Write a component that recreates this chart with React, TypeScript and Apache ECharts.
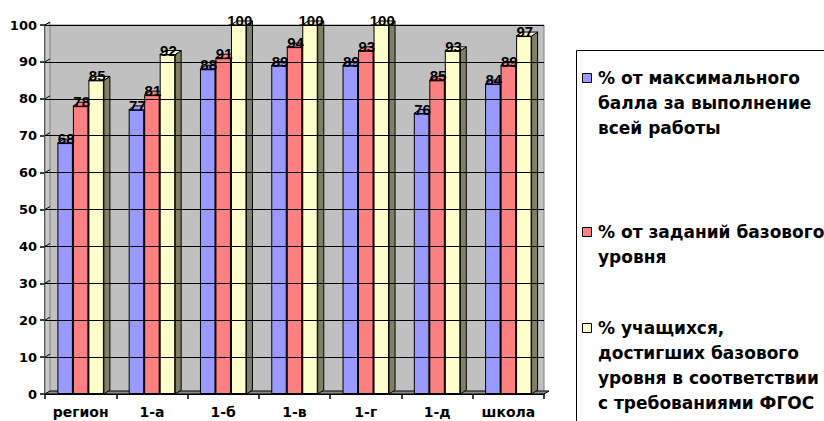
import React, { useEffect, useRef } from "react";
import * as echarts from "echarts";

const categories = ["регион", "1-а", "1-б", "1-в", "1-г", "1-д", "школа"];
const seriesNames = [
  "% от максимального балла за выполнение всей работы",
  "% от заданий базового уровня",
  "% учащихся, достигших базового уровня в соответствии с требованиями ФГОС",
];
const maxScorePct = [68, 77, 88, 89, 89, 76, 84];
const baseTasksPct = [78, 81, 91, 94, 93, 85, 89];
const reachedBasePct = [85, 92, 100, 100, 100, 93, 97];
const yTicks = [0, 10, 20, 30, 40, 50, 60, 70, 80, 90, 100];
const legendLines = [
  ["% от максимального", "балла за выполнение", "всей работы"],
  ["% от заданий базового", "уровня"],
  ["% учащихся,", "достигших базового", "уровня в соответствии", "с требованиями ФГОС"],
];

const COLORS = ["#9999FF", "#FF8080", "#FFFFCC"];
const SIDE_COLORS = ["#4D4D80", "#804040", "#808066"];
const BW = 15.5;
const DX = 6;
const DY = -4;
const WDX = 5;
const WDY = -3;
const AXIS_FONT = '"DejaVu Sans", sans-serif';

export default function App() {
  const ref = useRef<HTMLDivElement>(null);

  useEffect(() => {
    if (!ref.current) return;
    const chart = echarts.init(ref.current, undefined, { renderer: "svg" });
    const values = [maxScorePct, baseTasksPct, reachedBasePct];
    const nS = values.length;
    const groupW = BW * nS;

    const faceData: number[][] = [];
    values.forEach((arr, k) => arr.forEach((v, i) => faceData.push([i, k, v])));

    const wallSeries = {
      type: "custom",
      name: "walls",
      z: 1,
      silent: true,
      data: yTicks.map((t) => [0, t]),
      encode: { x: 0, y: 1 },
      renderItem: (params: any, api: any) => {
        const cs = params.coordSys;
        const xl = cs.x;
        const xr = cs.x + cs.width;
        const yTop = cs.y;
        const yBot = cs.y + cs.height;
        const y = api.coord([api.value(0), api.value(1)])[1];
        const children: any[] = [];
        if (params.dataIndex === 0) {
          children.push({
            type: "polygon",
            shape: {
              points: [
                [xl, yBot],
                [xl, yTop],
                [xl + WDX, yTop + WDY],
                [xl + WDX, yBot + WDY],
              ],
            },
            style: { fill: "#C8C8C8", stroke: "#808080", lineWidth: 1 },
          });
          children.push({
            type: "polygon",
            shape: {
              points: [
                [xl, yBot],
                [xr, yBot],
                [xr + WDX, yBot + WDY],
                [xl + WDX, yBot + WDY],
              ],
            },
            style: { fill: "#8C8C8C", stroke: "#000", lineWidth: 1 },
          });
        } else {
          children.push({
            type: "polyline",
            shape: { points: [[xl, y], [xl + WDX, y + WDY]] },
            style: { stroke: "#000", lineWidth: 1, fill: "none" },
          });
        }
        return { type: "group", children };
      },
    };

    const gridLineSeries = {
      type: "line",
      name: "gridlines",
      z: 1,
      silent: true,
      data: [],
      markLine: {
        silent: true,
        symbol: ["none", "none"],
        label: { show: false },
        lineStyle: { color: "#000000", width: 1.2, type: "solid", opacity: 1 },
        data: yTicks.filter((t) => t > 0).map((t) => ({ yAxis: t })),
      },
    };

    const faceSeries = {
      type: "custom",
      name: "faces",
      z: 1,
      silent: true,
      data: faceData,
      encode: { x: 0, y: 2 },
      renderItem: (params: any, api: any) => {
        const ci = api.value(0);
        const k = api.value(1);
        const v = api.value(2);
        const top = api.coord([ci, v]);
        const base = api.coord([ci, 0]);
        const x0 = top[0] - groupW / 2 + k * BW;
        const x1 = x0 + BW;
        const yt = top[1];
        const yb = base[1];
        return {
          type: "group",
          children: [
            {
              type: "polygon",
              shape: { points: [[x1, yt], [x1 + DX, yt + DY], [x1 + DX, yb + DY], [x1, yb]] },
              style: { fill: SIDE_COLORS[k], stroke: "#000", lineWidth: 1 },
            },
            {
              type: "polygon",
              shape: { points: [[x0, yt], [x1, yt], [x1 + DX, yt + DY], [x0 + DX, yt + DY]] },
              style: { fill: COLORS[k], stroke: "#000", lineWidth: 1 },
            },
          ],
        };
      },
    };

    const barSeries = values.map((arr, k) => ({
      type: "bar",
      name: seriesNames[k],
      data: arr,
      z: 2,
      barWidth: BW,
      barGap: "0%",
      itemStyle: { color: COLORS[k], borderColor: "#000", borderWidth: 1 },
      label: {
        show: true,
        position: "top",
        distance: 0,
        offset: [1, 3],
        color: "#000",
        fontFamily: '"Liberation Sans", Arial, sans-serif',
        fontWeight: "bold",
        fontSize: 15,
      },
    }));

    const graphics: any[] = [
      {
        type: "rect",
        shape: { x: 576.5, y: 50.5, width: 300, height: 420 },
        style: { fill: "#fff", stroke: "#000", lineWidth: 1 },
        z: 10,
      },
    ];
    const firstLineCenters = [78, 232, 328];
    legendLines.forEach((lines, k) => {
      const cy = firstLineCenters[k];
      graphics.push({
        type: "rect",
        shape: { x: 582.5, y: cy - 4.5, width: 9, height: 9 },
        style: { fill: COLORS[k], stroke: "#000", lineWidth: 1 },
        z: 11,
      });
      graphics.push({
        type: "text",
        x: 598,
        y: cy - 12.5,
        z: 11,
        style: {
          text: lines.join("\n"),
          font: 'bold 17px "DejaVu Sans", sans-serif',
          lineHeight: 25,
          fill: "#000",
          verticalAlign: "top",
          align: "left",
        },
      });
    });

    chart.setOption({
      animation: false,
      backgroundColor: "#fff",
      grid: {
        left: 45,
        right: 280,
        top: 25,
        bottom: 27,
        containLabel: false,
        show: true,
        backgroundColor: "#C0C0C0",
        borderColor: "#808080",
        borderWidth: 1,
      },
      xAxis: {
        type: "category",
        data: categories,
        axisLine: { show: true, lineStyle: { color: "#000", width: 1.5 } },
        axisTick: { show: true, length: 5, lineStyle: { color: "#000", width: 1.5 } },
        axisLabel: {
          interval: 0,
          color: "#000",
          fontFamily: AXIS_FONT,
          fontWeight: "bold",
          fontSize: 14,
          margin: 11,
        },
        splitLine: { show: false },
      },
      yAxis: {
        type: "value",
        min: 0,
        max: 100,
        interval: 10,
        axisLine: { show: true, lineStyle: { color: "#000", width: 1.5 } },
        axisTick: { show: true, length: 5, lineStyle: { color: "#000", width: 1.5 } },
        axisLabel: {
          color: "#000",
          fontFamily: AXIS_FONT,
          fontWeight: "bold",
          fontSize: 13,
          margin: 8,
        },
        splitLine: { show: true, lineStyle: { color: "#000000", width: 1.2, opacity: 1 } },
      },
      graphic: graphics,
      series: [wallSeries, gridLineSeries, faceSeries, ...barSeries],
    });

    return () => chart.dispose();
  }, []);

  return (
    <div
      ref={ref}
      style={{ position: "fixed", left: 0, top: 0, width: 824, height: 421, background: "#fff" }}
    />
  );
}
